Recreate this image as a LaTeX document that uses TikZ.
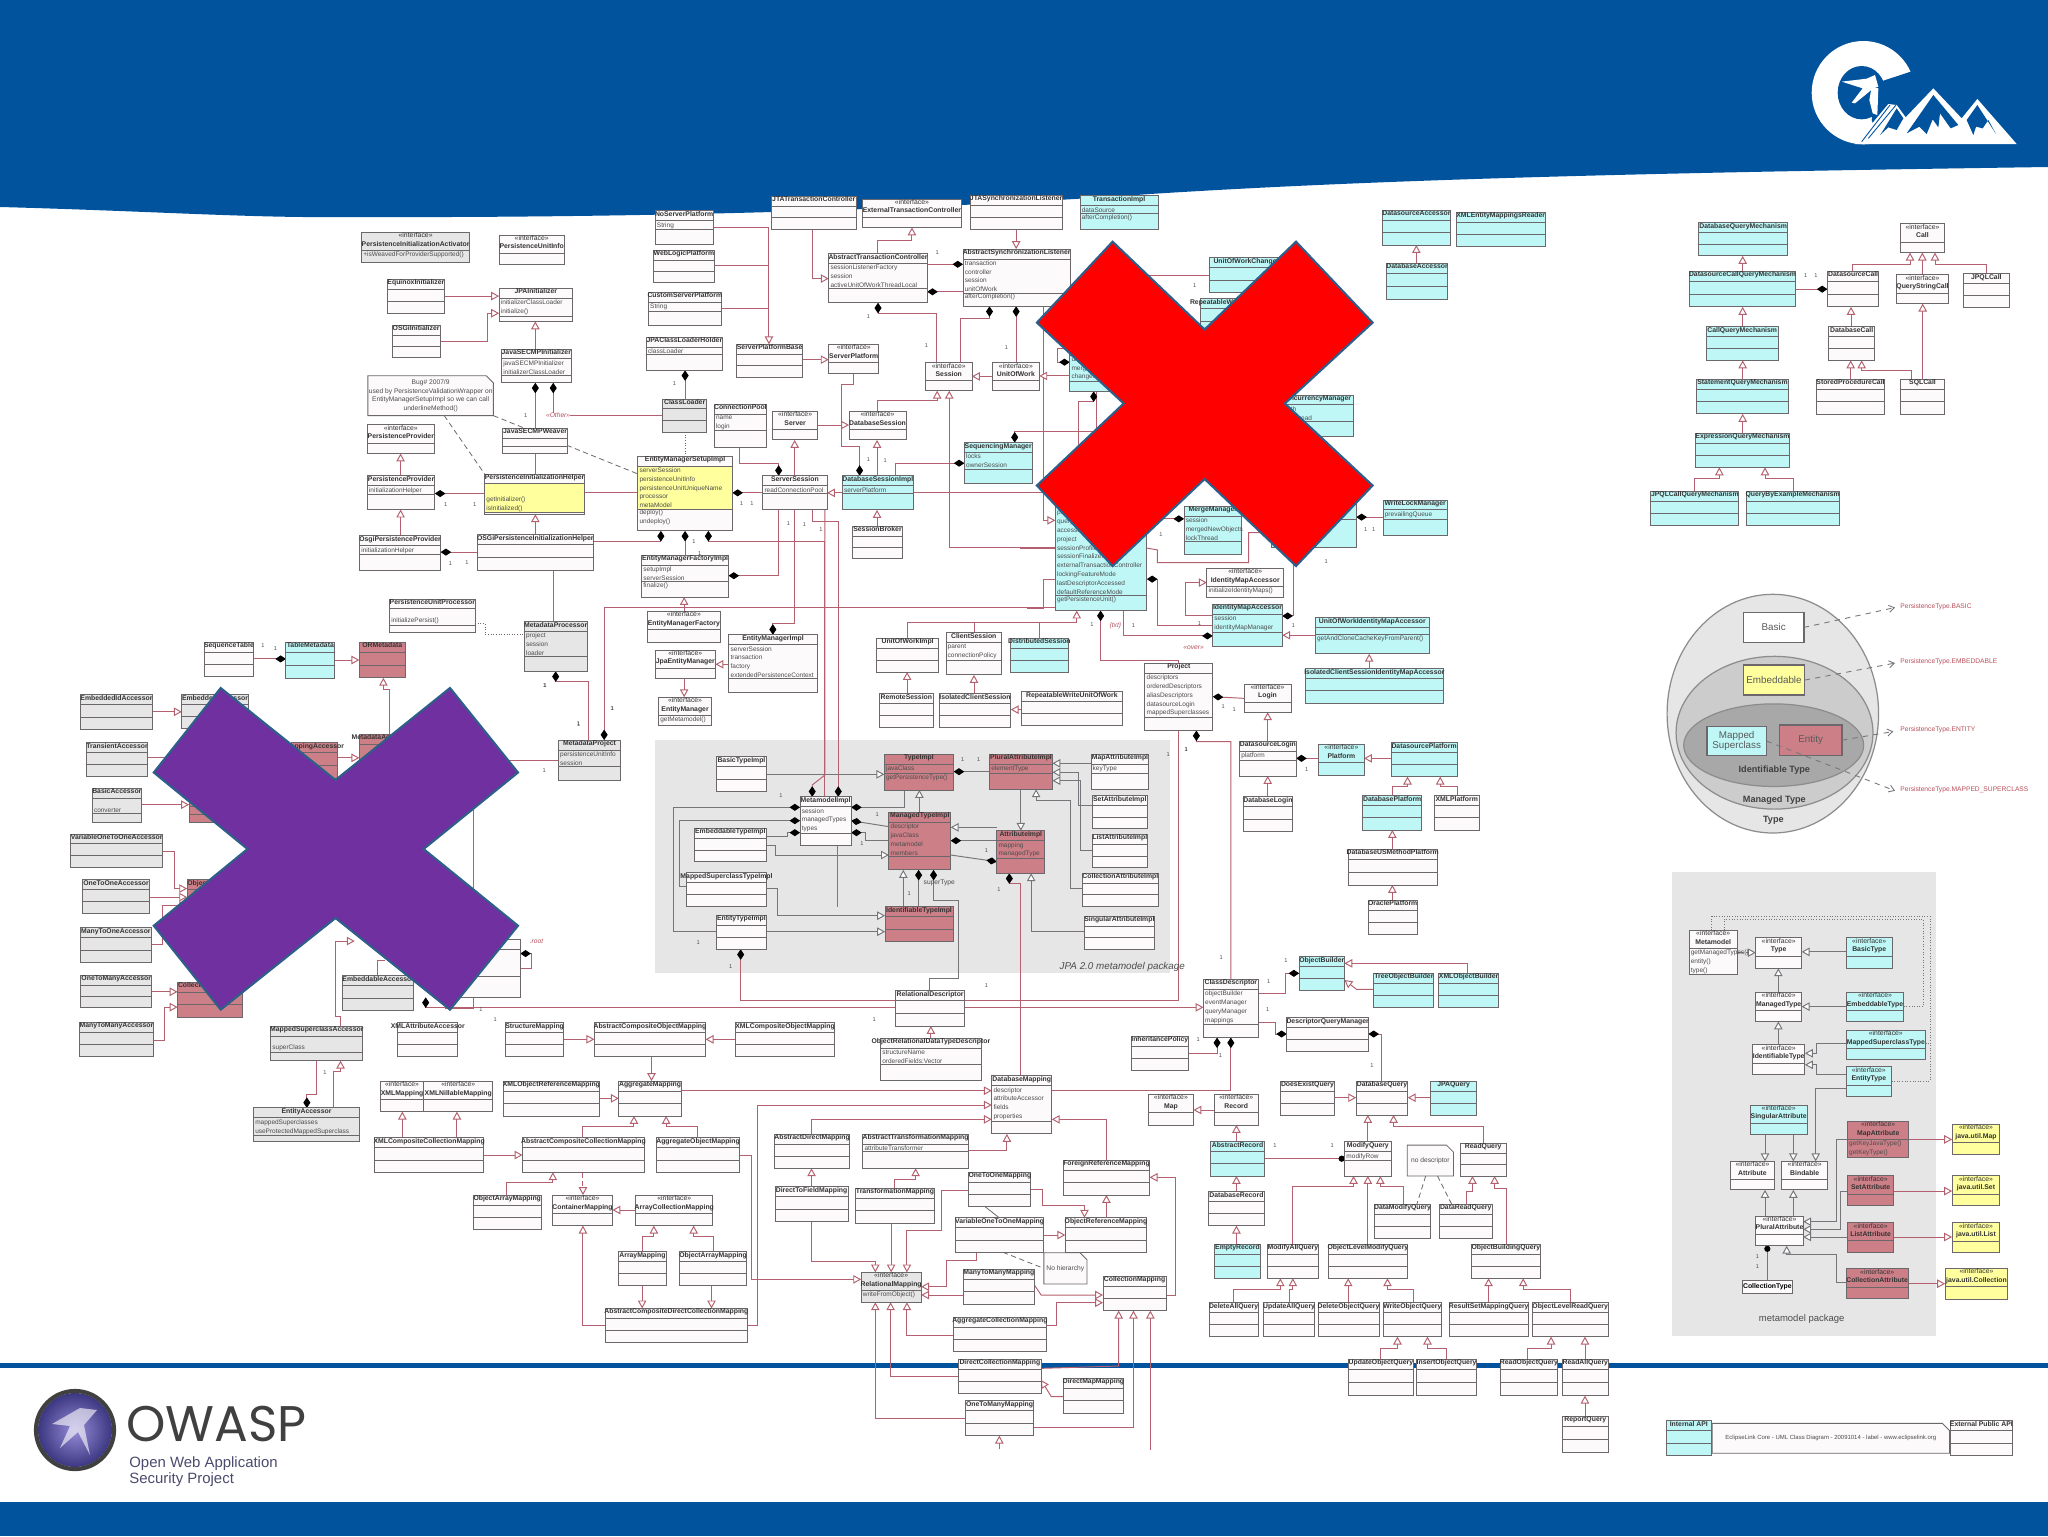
\documentclass[tikz,border=0pt]{standalone}
\usepackage{fontspec}
\setmainfont{Liberation Sans}
\newfontfamily\owf{Poppins}
\usetikzlibrary{arrows.meta,shapes.geometric,calc}
\definecolor{banner}{HTML}{00539C}
\definecolor{lc}{HTML}{B5606E}
\definecolor{lgc}{HTML}{77757A}
\definecolor{bx}{HTML}{6B676A}
\definecolor{cyb}{HTML}{BFF7F7}
\definecolor{pkb}{HTML}{CC7F87}
\definecolor{ylb}{HTML}{FFFF9E}
\definecolor{grb}{HTML}{E6E6E6}
\definecolor{whb}{HTML}{FCFAFA}
\definecolor{lbl}{HTML}{B8505C}
\definecolor{elm}{HTML}{CCCCCC}
\definecolor{eli}{HTML}{A8A8A8}
\definecolor{xpur}{HTML}{7030A0}
\definecolor{xedge}{HTML}{2E5F8A}
\definecolor{orbi}{HTML}{968CD7}
\definecolor{orbo}{HTML}{3C3782}
\definecolor{owsc}{HTML}{4B4B6E}
\pgfdeclarelayer{bg}\pgfdeclarelayer{wires}\pgfdeclarelayer{top}
\pgfsetlayers{bg,wires,main,top}
\def\afc{none}
\tikzset{
 reg/.code n args={4}{\gdef\rsx{#3}\gdef\rsy{#4}\tikzset{shift={(#1,#2)},xscale=1/#3,yscale=1/#4}},
 ub/.style={draw=bx,line width=.5pt,inner sep=0pt,outer sep=0pt,rectangle},
 wb/.style={fill=whb}, cb/.style={fill=cyb}, pb/.style={fill=pkb}, yb/.style={fill=ylb}, gb/.style={fill=grb},
 ttl/.style={font=\bfseries\fontsize{3.9}{5}\selectfont,inner sep=.3pt,outer sep=0pt,align=center,text=black!80},
 itl/.style={font=\fontsize{3.9}{4.8}\selectfont,inner sep=.3pt,outer sep=0pt,align=center,text=black!80},
 att/.style={font=\fontsize{3.7}{5}\selectfont,inner sep=.7pt,outer sep=0pt,align=left,text=black!70},
 csep/.style={draw=bx,line width=.4pt},
 wl/.style={draw=lc,line width=.55pt},
 lg/.style={draw=lgc,color=lgc},
 plainl/.style={wl},
 gen/.style={wl,-{Triangle[fill=white,length=4.5pt,width=4.8pt]}},
 comp/.style={wl,-{Diamond[fill=black,length=6pt,width=4pt,color=black]}},
 circ/.style={wl,-{Circle[fill=black,length=3.5pt,color=black]}},
 depl/.style={draw=bx,line width=.45pt,densely dashed},
 dotl/.style={draw=bx,line width=.5pt,densely dotted},
 dasharr/.style={draw=lgc,line width=.5pt,dashed,-{Straight Barb[length=3pt,width=4pt]}},
 slab/.style={font=\itshape\fontsize{3.8}{5}\selectfont,text=lbl,inner sep=0pt},
 xshape/.style={draw=xedge,line width=1.2pt},
 ptl/.style={font=\fontsize{3.8}{5}\selectfont,text=lbl,inner sep=0pt,anchor=west},
 mul/.style={font=\fontsize{3.2}{4}\selectfont,text=black!70,inner sep=0pt},
}
\newcommand{\ucls}[9][wb]{%
 \pgfmathsetmacro\bw{abs((#5)-(#3))/\rsx*0.5669}%
 \pgfmathsetmacro\bh{abs((#6)-(#4))/\rsy*0.5669}%
 \node[ub,#1,minimum width=\bw pt,minimum height=\bh pt] (#2) at ({((#3)+(#5))/2},{((#4)+(#6))/2}) {};%
 \node[ttl,anchor=north] (#2-t) at (#2.north) {#7};%
 \draw[csep] ([yshift={-5.6pt*\rsy}]#2.north west) -- ([yshift={-5.6pt*\rsy}]#2.north east);%
 \if\relax\detokenize{#8}\relax
   \pgfmathsetmacro\ym{-(5.6+\bh)/2*\rsy}%
   \draw[csep] ([yshift=\ym pt]#2.north west) -- ([yshift=\ym pt]#2.north east);%
 \else
   \node[att,fill=\afc,anchor=north west,text width=\bw pt-2pt] (#2-a) at ([yshift={-5.9pt*\rsy},xshift={.3pt*\rsx}]#2.north west) {#8};%
   \draw[csep] (#2-a.south -| #2.west) -- (#2-a.south -| #2.east);%
   \if\relax\detokenize{#9}\relax\else
     \node[att,anchor=north west,text width=\bw pt-2pt] (#2-o) at ([xshift={.3pt*\rsx}]#2-a.south -| #2.west) {#9};%
   \fi
 \fi
}
\newcommand{\uifc}[8][wb]{%
 \pgfmathsetmacro\bw{abs((#5)-(#3))/\rsx*0.5669}%
 \pgfmathsetmacro\bh{abs((#6)-(#4))/\rsy*0.5669}%
 \node[ub,#1,minimum width=\bw pt,minimum height=\bh pt] (#2) at ({((#3)+(#5))/2},{((#4)+(#6))/2}) {};%
 \node[itl,anchor=north] (#2-t) at (#2.north) {«interface»\\\textbf{#7}};%
 \draw[csep] ([yshift={-10.4pt*\rsy}]#2.north west) -- ([yshift={-10.4pt*\rsy}]#2.north east);%
 \if\relax\detokenize{#8}\relax\else
   \node[att,anchor=north west,text width=\bw pt-2pt] (#2-a) at ([yshift={-10.6pt*\rsy},xshift={.3pt*\rsx}]#2.north west) {#8};%
 \fi
}
\newcommand{\unote}[7][3.8]{%
 \pgfmathsetmacro\bw{abs((#5)-(#3))/\rsx*0.5669}%
 \pgfmathsetmacro\bh{abs((#6)-(#4))/\rsy*0.5669}%
 \node[inner sep=0pt,outer sep=0pt,minimum width=\bw pt,minimum height=\bh pt,align=center,font=\fontsize{#1}{5}\selectfont,text=black!70] (#2) at ({((#3)+(#5))/2},{((#4)+(#6))/2}) {#7};%
 \begin{pgfonlayer}{wires}
 \draw[ub,fill=whb] (#2.north west) -- ([xshift={-4pt*\rsx}]#2.north east) -- ([yshift={-4pt*\rsy}]#2.north east) -- (#2.south east) -- (#2.south west) -- cycle;%
 \end{pgfonlayer}
}
\newcommand{\uell}[6]{%
 \pgfmathsetmacro\bw{abs((#4)-(#2))/\rsx*0.5669}%
 \pgfmathsetmacro\bh{abs((#5)-(#3))/\rsy*0.5669}%
 \node[ellipse,draw=black!45,line width=.7pt,fill=#6,inner sep=0pt,outer sep=0pt,minimum width=\bw pt,minimum height=\bh pt] (#1) at ({((#2)+(#4))/2},{((#3)+(#5))/2}) {};%
}
\begin{document}
\begin{tikzpicture}[x=0.02cm,y=-0.02cm]
\useasboundingbox (0,0) rectangle (2048,1536);
\begin{pgfonlayer}{bg}
 \fill[white] (0,0) rectangle (2048,1536);
 \fill[banner] (0,0) -- (0,207) .. controls (150,211) and (250,218) .. (340,217) .. controls (600,218) and (900,212) .. (1150,194) .. controls (1400,178) and (1700,172) .. (2048,167) -- (2048,0) -- cycle;
 \fill[banner] (0,1363) rectangle (2048,1367.5);
 \fill[banner] (0,1502) rectangle (2048,1536);
 \fill[grb] (655,740) rectangle (1170,973);
 \fill[grb] (1672,872) rectangle (1936,1336);
\end{pgfonlayer}

%%% ---------------- NODES ---------------
\begin{scope}[reg={340}{190}{2.063}{2.8}]
\uifc[gb]{pact}{44}{118}{268}{202}{PersistenceInitializationActivator}{+isWeavedForProviderSupported()}
\uifc{pui}{328}{126}{463}{208}{PersistenceUnitInfo}{}
\ucls{equinox}{98}{250}{215}{345}{EquinoxInitializer}{}{}
\ucls{osgi}{107}{378}{207}{470}{OSGiInitializer}{}{}
\ucls{jpainit}{328}{275}{480}{368}{JPAInitializer}{initializerClassLoader\\initialize()}{}
\ucls{javase}{333}{445}{477}{540}{JavaSECMPInitializer}{javaSECMPInitializer\\initializerClassLoader}{}
\ucls{jweaver}{335}{668}{470}{738}{JavaSECMPWeaver}{}{}
\unote{bugnote}{57}{520}{317}{632}{Bug\# 2007/9\\used by PersistenceValidationWrapper on\\EntityManagerSetupImpl so we can call\\underlineMethod()}
\uifc{iprov}{56}{657}{195}{738}{PersistenceProvider}{}
\ucls{prov}{56}{800}{196}{895}{PersistenceProvider}{initializationHelper}{}
\def\afc{ylb}
\ucls{pih}{298}{795}{505}{908}{PersistenceInitializationHelper}{\phantom{x}\\[2pt]getInitializer()\\isInitialized()}{}
\ucls{ems}{614}{745}{810}{955}{EntityManagerSetupImpl}{serverSession\\persistenceUnitInfo\\persistenceUnitUniqueName\\processor\\metaModel}{deploy()\\undeploy()}
\def\afc{none}
\ucls{oprov}{40}{968}{208}{1065}{OsgiPersistenceProvider}{initializationHelper}{}
\ucls{opih}{283}{965}{523}{1065}{OSGiPersistenceInitializationHelper}{}{}
\ucls{pup}{102}{1145}{279}{1240}{PersistenceUnitProcessor}{\phantom{x}\\initializePersist()}{}
\ucls[gb]{mdproc}{380}{1208}{510}{1348}{MetadataProcessor}{project\\session\\loader}{}
\ucls{nosp}{650}{58}{770}{153}{NoServerPlatform}{String}{}
\ucls{wls}{646}{168}{773}{258}{WebLogicPlatform}{}{}
\ucls{custsp}{636}{286}{787}{380}{CustomServerPlatform}{String}{}
\ucls{jclh}{632}{412}{789}{505}{JPAClassLoaderHolder}{classLoader}{}
\ucls{sbase}{818}{432}{955}{525}{ServerPlatformBase}{}{}
\uifc{isp}{1008}{432}{1112}{515}{ServerPlatform}{}
\ucls[gb]{cloader}{665}{585}{757}{678}{ClassLoader}{}{}
\ucls{cpool}{772}{600}{880}{720}{ConnectionPool}{name\\login}{}
\uifc{iserver}{893}{620}{985}{700}{Server}{}
\uifc{idbs}{1050}{620}{1168}{700}{DatabaseSession}{}
\ucls{jtac}{890}{17}{1065}{110}{JTATransactionController}{}{}
\uifc{extc}{1078}{25}{1282}{105}{ExternalTransactionController}{}
\ucls{jtas}{1300}{15}{1490}{110}{JTASynchronizationListener}{}{}
\ucls{atc}{1008}{178}{1212}{316}{AbstractTransactionController}{sessionListenerFactory\\session\\activeUnitOfWorkThreadLocal}{}
\ucls{asyn}{1285}{165}{1507}{326}{AbstractSynchronizationListener}{transaction\\controller\\session\\unitOfWork}{afterCompletion()}
\uifc{isess}{1208}{483}{1304}{562}{Session}{}
\uifc{iuow}{1346}{483}{1443}{560}{UnitOfWork}{}
\ucls[cb]{seq}{1288}{707}{1428}{822}{SequencingManager}{locks\\ownerSession}{}
\ucls{ss}{872}{800}{1005}{895}{ServerSession}{readConnectionPool}{}
\ucls[cb]{dbs}{1036}{800}{1183}{896}{DatabaseSessionImpl}{serverPlatform}{}
\ucls{emf}{622}{1022}{802}{1140}{EntityManagerFactoryImpl}{setupImpl\\serverSession}{finalize()}
\uifc{iemf}{634}{1180}{785}{1268}{EntityManagerFactory}{}
\uifc{jem}{650}{1288}{775}{1368}{JpaEntityManager}{}
\uifc{iem}{657}{1420}{767}{1500}{EntityManager}{getMetamodel()}
\ucls{emi}{802}{1245}{985}{1408}{EntityManagerImpl}{serverSession\\transaction\\factory\\extendedPersistenceContext}{}
\ucls{broker}{1058}{942}{1160}{1033}{SessionBroker}{}{}
\ucls{uowi}{1107}{1255}{1235}{1350}{UnitOfWorkImpl}{}{}
\ucls{client}{1250}{1240}{1365}{1358}{ClientSession}{parent\\connectionPolicy}{}
\ucls[cb]{dist}{1383}{1255}{1503}{1350}{DistributedSession}{}{}
\ucls{remote}{1113}{1410}{1224}{1505}{RemoteSession}{}{}
\ucls{isol}{1236}{1410}{1384}{1505}{IsolatedClientSession}{}{}
\ucls{rwuow}{1405}{1405}{1615}{1500}{RepeatableWriteUnitOfWork}{}{}
\node[mul] (m1) at (218,880) {1};
\node[mul] (m2) at (278,880) {1};
\node[mul] (m3) at (828,878) {1};
\node[mul] (m4) at (850,878) {1};
\node[mul] (m5) at (383,632) {1};
\node[mul] (m6) at (690,542) {1};
\node[mul] (m7) at (1090,755) {1};
\node[mul] (m8) at (1125,757) {1};
\node[mul] (m9) at (1090,355) {1};
\node[mul] (m10) at (1210,435) {1};
\node[mul] (m11) at (1375,440) {1};
\node[mul] (m12) at (1232,175) {1};
\node[mul] (m13) at (925,935) {1};
\node[mul] (m14) at (958,938) {1};
\node[mul] (m15) at (992,952) {1};
\node[mul] (m16) at (228,1047) {1};
\node[mul] (m17) at (262,1044) {1};
\node[mul] (m18) at (562,1452) {1};
\node[mul] (m19) at (492,1495) {1};
\node[mul] (m20) at (422,1388) {1};
\node[mul] (m21) at (730,985) {1};
\node[mul] (m22) at (742,1018) {1};
\end{scope}

\begin{scope}[reg={1030}{190}{2.904}{2.904}]
\ucls[cb]{tsett}{145}{17}{372}{115}{TransactionImpl}{dataSource}{afterCompletion()}
\ucls[cb]{dsa}{1022}{60}{1222}{160}{DatasourceAccessor}{}{}
\ucls[cb]{xmlr}{1237}{65}{1497}{165}{XMLEntityMappingsReader}{}{}
\ucls[cb]{dba}{1035}{213}{1213}{318}{DatabaseAccessor}{}{}
\ucls[cb]{uowcs}{520}{197}{760}{298}{UnitOfWorkChangeSet}{}{}
\ucls[cb]{rep}{495}{315}{700}{420}{RepeatableWriteUnitOfWork}{}{}
\ucls[cb]{uowc}{115}{450}{300}{585}{UnitOfWorkImpl}{unitOfWorkImpl\\mergeManager\\changeSet}{}
\ucls[cb]{clm}{720}{595}{940}{715}{ConcurrencyManager}{depth\\lockThread}{}
\ucls[cb]{abs}{73}{870}{340}{1222}{AbstractSession}{identityMapAccessor\\platform\\queryBuilder\\accessor\\project\\sessionProfiler\\sessionFinalizer\\externalTransactionController\\lockingFeatureMode\\lastDescriptorAccessed\\defaultReferenceMode}{getPersistenceUnit()}
\ucls[cb]{merge}{447}{918}{615}{1060}{MergeManager}{session\\mergedNewObjects\\lockThread}{}
\ucls[cb]{wlm}{1025}{900}{1212}{1002}{WriteLockManager}{prevailingQueue}{}
\ucls[cb]{commit}{700}{880}{948}{1038}{CommitManager}{session\\commitOrder}{}
\uifc{iidm}{513}{1098}{737}{1182}{IdentityMapAccessor}{initializeIdentityMaps()}
\ucls[cb]{idm}{530}{1203}{733}{1325}{IdentityMapAccessor}{session\\identityMapManager}{}
\ucls[cb]{uowid}{828}{1242}{1160}{1347}{UnitOfWorkIdentityMapAccessor}{\phantom{x}}{getAndCloneCacheKeyFromParent()}
\ucls[cb]{isoid}{800}{1390}{1200}{1490}{IsolatedClientSessionIdentityMapAccessor}{}{}
\node[mul] (n1) at (478,278) {1};
\node[mul] (n2) at (380,1002) {1};
\node[mul] (n3) at (975,985) {1};
\node[mul] (n4) at (998,985) {1};
\node[mul] (n5) at (860,1078) {1};
\node[mul] (n6) at (300,1265) {1};
\node[mul] (n7) at (180,1262) {1};
\node[mul] (n8) at (492,1258) {1};
\node[mul] (n9) at (765,1265) {1};
\end{scope}

\begin{scope}[reg={1100}{640}{2.904}{3}]
\ucls{proj}{130}{70}{328}{272}{Project}{descriptors\\orderedDescriptors\\aliasDescriptors\\datasourceLogin\\mappedSuperclasses}{}
\uifc{login}{418}{132}{555}{217}{Login}{}
\ucls{dlog}{405}{303}{570}{408}{DatasourceLogin}{platform}{}
\ucls{dblog}{415}{470}{560}{575}{DatabaseLogin}{}{}
\uifc[cb]{plat}{635}{312}{767}{405}{Platform}{}
\ucls[cb]{dspl}{845}{308}{1037}{410}{DatasourcePlatform}{}{}
\ucls[cb]{dbp}{762}{467}{935}{570}{DatabasePlatform}{}{}
\ucls{xmlp}{970}{467}{1102}{570}{XMLPlatform}{}{}
\ucls{dblsm}{720}{628}{980}{735}{DatabaseUSMethodPlatform}{}{}
\ucls{orap}{778}{780}{922}{883}{OraclePlatform}{}{}
\ucls{cd}{300}{1018}{460}{1193}{ClassDescriptor}{objectBuilder\\eventManager\\queryManager\\mappings}{}
\ucls[cb]{ob}{578}{950}{710}{1050}{ObjectBuilder}{}{}
\ucls[cb]{tob}{795}{1000}{970}{1103}{TreeObjectBuilder}{}{}
\ucls[cb]{xob}{983}{1000}{1158}{1103}{XMLObjectBuilder}{}{}
\ucls{dqm}{542}{1133}{780}{1233}{DescriptorQueryManager}{}{}
\node[mul] (o1) at (358,200) {1};
\node[mul] (o2) at (390,208) {1};
\node[mul] (o3) at (600,390) {1};
\node[mul] (o4) at (250,328) {1};
\node[mul] (o5) at (198,345) {1};
\node[mul] (o6) at (352,952) {1};
\node[mul] (o7) at (540,962) {1};
\node[mul] (o8) at (490,1024) {1};
\node[mul] (o9) at (487,1108) {1};
\node[mul] (o10) at (285,1200) {1};
\node[mul] (o11) at (350,1246) {1};
\node[mul] (o12) at (790,1277) {1};
\end{scope}

\begin{scope}[reg={640}{720}{2.613}{3}]
\ucls{basici}{200}{110}{330}{215}{BasicTypeImpl}{}{}
\ucls[pb]{typei}{638}{103}{820}{210}{TypeImpl}{javaClass}{getPersistenceType()}
\ucls[pb]{plui}{913}{103}{1078}{208}{PluralAttributeImpl}{elementType}{}
\ucls{mapi}{1178}{103}{1330}{208}{MapAttributeImpl}{keyType}{}
\ucls{seti}{1182}{227}{1325}{325}{SetAttributeImpl}{}{}
\ucls{listi}{1182}{343}{1325}{443}{ListAttributeImpl}{}{}
\ucls{coli}{1155}{460}{1355}{558}{CollectionAttributeImpl}{}{}
\ucls{singi}{1160}{588}{1345}{688}{SingularAttributeImpl}{}{}
\ucls{metai}{418}{230}{552}{378}{MetamodelImpl}{session\\managedTypes\\types}{}
\ucls{embi}{142}{325}{330}{425}{EmbeddableTypeImpl}{}{}
\ucls[pb]{mti}{650}{277}{812}{450}{ManagedTypeImpl}{descriptor\\javaClass\\metamodel\\members}{}
\ucls[pb]{attri}{932}{332}{1058}{460}{AttributeImpl}{mapping\\managedType}{}
\ucls{msi}{122}{458}{330}{558}{MappedSuperclassTypeImpl}{}{}
\ucls[pb]{idi}{640}{560}{818}{665}{IdentifiableTypeImpl}{}{}
\ucls{enti}{200}{585}{330}{688}{EntityTypeImpl}{}{}
\ucls{reld}{668}{812}{848}{918}{RelationalDescriptor}{}{}
\ucls{ordt}{628}{955}{892}{1082}{ObjectRelationalDataTypeDescriptor}{structureName\\orderedFields:Vector}{}
\ucls{acm}{-120}{908}{172}{1010}{AbstractCompositeObjectMapping}{}{}
\ucls{xcom}{250}{908}{508}{1010}{XMLCompositeObjectMapping}{}{}
\ucls{inh}{1283}{948}{1433}{1052}{InheritancePolicy}{}{}
\node[font=\itshape\fontsize{5.6}{6}\selectfont,text=black!70,inner sep=0pt] (jpal) at (1260,740) {JPA 2.0 metamodel package};
\node[slab,text=black!70,font=\fontsize{3.8}{5}\selectfont] (sut) at (782,490) {superType};
\node[mul] (p1) at (843,118) {1};
\node[mul] (p2) at (885,118) {1};
\node[mul] (p3) at (368,228) {1};
\node[mul] (p4) at (620,283) {1};
\node[mul] (p5) at (580,372) {1};
\node[mul] (p6) at (703,520) {1};
\node[mul] (p7) at (905,392) {1};
\node[mul] (p8) at (938,508) {1};
\node[mul] (p9) at (152,667) {1};
\node[mul] (p10) at (237,740) {1};
\node[mul] (p11) at (1427,88) {1};
\node[mul] (p12) at (905,797) {1};
\node[mul] (p13) at (612,898) {1};
\end{scope}

\begin{scope}[reg={60}{600}{2.613}{2.8}]
\ucls{seqt}{378}{118}{505}{213}{SequenceTable}{}{}
\ucls[cb]{tmeta}{590}{118}{718}{220}{TableMetadata}{}{}
\ucls[pb]{orm}{782}{118}{902}{218}{ORMetadata}{}{}
\ucls[gb]{embid}{52}{265}{243}{362}{EmbeddedIdAccessor}{}{}
\ucls[gb]{embac}{318}{265}{492}{360}{EmbeddedAccessor}{}{}
\ucls[gb]{trans}{68}{400}{230}{495}{TransientAccessor}{}{}
\ucls[pb]{mapac}{605}{400}{725}{500}{MappingAccessor}{}{}
\ucls[pb]{metac}{782}{375}{900}{500}{MetadataAccessor}{}{}
\ucls[gb]{basac}{84}{527}{213}{622}{BasicAccessor}{\phantom{x}\\converter}{}
\ucls[pb]{dirac}{337}{550}{480}{622}{DirectAccessor}{}{}
\ucls[gb]{varac}{28}{655}{268}{750}{VariableOneToOneAccessor}{}{}
\ucls[gb]{ooac}{58}{783}{235}{877}{OneToOneAccessor}{}{}
\ucls[gb]{moac}{54}{918}{238}{1015}{ManyToOneAccessor}{}{}
\ucls[gb]{omac}{54}{1050}{240}{1142}{OneToManyAccessor}{}{}
\ucls[gb]{mmac}{50}{1183}{245}{1278}{ManyToManyAccessor}{}{}
\ucls[pb]{objac}{332}{783}{470}{877}{ObjectAccessor}{}{}
\ucls[pb]{colac}{307}{1070}{477}{1168}{CollectionAccessor}{}{}
\ucls[gb]{embble}{738}{1052}{925}{1150}{EmbeddableAccessor}{}{}
\ucls{clsac}{1000}{950}{1203}{1113}{ClassAccessor}{descriptor\\project\\mappings}{}
\ucls[gb]{msac}{550}{1193}{792}{1290}{MappedSuperclassAccessor}{\phantom{x}\\superClass}{}
\ucls[gb]{entac}{505}{1422}{783}{1515}{EntityAccessor}{mappedSuperclasses\\useProtectedMappedSuperclass}{}
\ucls{xatt}{882}{1183}{1040}{1278}{XMLAttributeAccessor}{}{}
\ucls{strm}{1163}{1183}{1317}{1278}{StructureMapping}{}{}
\ucls[gb]{mdp}{1302}{392}{1465}{505}{MetadataProject}{persistenceUnitInfo\\session}{}
\node[mul] (q1) at (530,128) {1};
\node[mul] (q2) at (563,136) {1};
\node[mul] (q3) at (1268,240) {1};
\node[mul] (q4) at (1443,305) {1};
\node[mul] (q5) at (1355,348) {1};
\node[mul] (q6) at (1265,478) {1};
\node[mul] (q7) at (1100,1148) {1};
\node[mul] (q8) at (1137,1175) {1};
\node[mul] (q9) at (692,1322) {1};
\end{scope}

\begin{scope}[reg={360}{1060}{1.96}{3}]
\uifc{xmlm}{40}{63}{125}{155}{XMLMapping}{}
\uifc{xmln}{125}{63}{260}{155}{XMLNillableMapping}{}
\ucls{xmlo}{280}{63}{470}{168}{XMLObjectReferenceMapping}{}{}
\ucls{agg}{507}{63}{630}{168}{AggregateMapping}{}{}
\ucls{dbm}{1238}{47}{1356}{222}{DatabaseMapping}{descriptor\\attributeAccessor\\fields\\properties}{}
\ucls{xmlc}{28}{233}{243}{337}{XMLCompositeCollectionMapping}{}{}
\ucls{acc}{318}{233}{558}{337}{AbstractCompositeCollectionMapping}{}{}
\ucls{aggo}{580}{233}{745}{337}{AggregateObjectMapping}{}{}
\ucls{adm}{812}{222}{960}{325}{AbstractDirectMapping}{}{}
\ucls{atm}{985}{222}{1193}{325}{AbstractTransformationMapping}{attributeTransformer}{}
\ucls{frm}{1378}{300}{1548}{405}{ForeignReferenceMapping}{}{}
\ucls{oom}{1193}{337}{1315}{440}{OneToOneMapping}{}{}
\ucls{oam}{222}{405}{355}{507}{ObjectArrayMapping}{}{}
\uifc{contm}{377}{405}{495}{497}{ContainerMapping}{}
\uifc{acolm}{540}{405}{692}{497}{ArrayCollectionMapping}{}
\ucls{dtf}{813}{380}{957}{485}{DirectToFieldMapping}{}{}
\ucls{trm}{970}{385}{1127}{490}{TransformationMapping}{}{}
\ucls{vom}{1167}{473}{1340}{577}{VariableOneToOneMapping}{}{}
\ucls{orm2}{1382}{473}{1542}{577}{ObjectReferenceMapping}{}{}
\unote{hnote}{1340}{578}{1425}{672}{No hierarchy}
\ucls{arrm}{507}{575}{600}{677}{ArrayMapping}{}{}
\ucls{oarr}{626}{575}{758}{677}{ObjectArrayMapping}{}{}
\ucls{acd}{480}{745}{760}{848}{AbstractCompositeDirectCollectionMapping}{}{}
\uifc[gb]{relm}{982}{637}{1100}{727}{RelationalMapping}{writeFromObject()}
\ucls{mmm}{1182}{628}{1322}{733}{ManyToManyMapping}{}{}
\ucls{colm}{1456}{648}{1580}{752}{CollectionMapping}{}{}
\ucls{aggc}{1162}{772}{1346}{875}{AggregateCollectionMapping}{}{}
\ucls{dcm}{1173}{898}{1335}{1000}{DirectCollectionMapping}{}{}
\ucls{dmm}{1378}{955}{1497}{1060}{DirectMapMapping}{}{}
\ucls{omm}{1187}{1022}{1320}{1127}{OneToManyMapping}{}{}
\end{scope}

\begin{scope}[reg={1100}{1060}{2.8}{3}]
\uifc{imap}{135}{103}{262}{195}{Map}{}
\uifc{irec}{320}{103}{443}{195}{Record}{}
\ucls[cb]{arec}{310}{245}{460}{348}{AbstractRecord}{}{}
\ucls{drec}{304}{395}{460}{497}{DatabaseRecord}{}{}
\ucls[cb]{erec}{320}{552}{450}{655}{EmptyRecord}{}{}
\ucls{deq}{505}{63}{657}{165}{DoesExistQuery}{}{}
\ucls{dbq}{717}{63}{862}{165}{DatabaseQuery}{}{}
\ucls[cb]{jpaq}{925}{63}{1055}{165}{JPAQuery}{}{}
\ucls{modq}{685}{245}{815}{348}{ModifyQuery}{modifyRow}{}
\ucls{rdq}{1008}{250}{1138}{348}{ReadQuery}{}{}
\unote{dnote}{860}{255}{990}{348}{no descriptor}
\ucls{dmq}{768}{433}{926}{535}{DataModifyQuery}{}{}
\ucls{drq}{950}{433}{1098}{535}{DataReadQuery}{}{}
\ucls{maq}{468}{552}{612}{655}{ModifyAllQuery}{}{}
\ucls{olm}{638}{552}{862}{655}{ObjectLevelModifyQuery}{}{}
\ucls{obq}{1040}{552}{1233}{655}{ObjectBuildingQuery}{}{}
\ucls{daq}{305}{728}{443}{830}{DeleteAllQuery}{}{}
\ucls{uaq}{457}{728}{602}{830}{UpdateAllQuery}{}{}
\ucls{doq}{610}{728}{782}{830}{DeleteObjectQuery}{}{}
\ucls{woq}{792}{728}{957}{830}{WriteObjectQuery}{}{}
\ucls{rsq}{977}{728}{1200}{830}{ResultSetMappingQuery}{}{}
\ucls{olr}{1210}{728}{1423}{830}{ObjectLevelReadQuery}{}{}
\ucls{uoq}{695}{898}{878}{1007}{UpdateObjectQuery}{}{}
\ucls{ioq}{886}{898}{1055}{1007}{InsertObjectQuery}{}{}
\ucls{roq}{1120}{898}{1282}{1007}{ReadObjectQuery}{}{}
\ucls{raq}{1295}{898}{1423}{1007}{ReadAllQuery}{}{}
\ucls{rpq}{1295}{1068}{1423}{1177}{ReportQuery}{}{}
\node[mul] (r1) at (490,258) {1};
\node[mul] (r2) at (650,258) {1};
\end{scope}

\begin{scope}[reg={1640}{200}{3}{2.412}]
\ucls[cb]{dqm2}{176}{55}{443}{135}{DatabaseQueryMechanism}{}{}
\ucls[cb]{dcqm}{148}{172}{467}{258}{DatasourceCallQueryMechanism}{}{}
\ucls[cb]{cqm}{198}{305}{415}{387}{CallQueryMechanism}{}{}
\ucls[cb]{sqm}{170}{432}{445}{516}{StatementQueryMechanism}{}{}
\ucls[cb]{eqm}{165}{562}{450}{645}{ExpressionQueryMechanism}{}{}
\ucls[cb]{jcqm}{32}{702}{297}{785}{JPQLCallQueryMechanism}{}{}
\ucls[cb]{qbe}{318}{702}{598}{785}{QueryByExampleMechanism}{}{}
\uifc{icall}{780}{57}{915}{127}{Call}{}
\ucls{dcall}{562}{172}{717}{258}{DatasourceCall}{}{}
\uifc{qsc}{770}{180}{925}{250}{QueryStringCall}{}
\ucls{jcall}{970}{178}{1108}{260}{JPQLCall}{}{}
\ucls{dbcall}{565}{305}{705}{387}{DatabaseCall}{}{}
\ucls{spc}{528}{432}{735}{518}{StoredProcedureCall}{}{}
\ucls{sqlc}{780}{432}{915}{518}{SQLCall}{}{}
\node[mul] (s1) at (497,183) {1};
\node[mul] (s2) at (528,183) {1};
% Euler diagram
\uell{etype}{80}{950}{717}{1528}{grb}
\uell{emt}{107}{1100}{700}{1470}{elm}
\uell{eit}{130}{1215}{672}{1415}{eli}
\tikzset{ebox/.style={draw=bx,line width=.9pt,inner sep=0pt,outer sep=0pt,font=\fontsize{5.6}{6.5}\selectfont,text=black!65,align=center}}
\node[ebox,fill=white,minimum width=34.3pt,minimum height=17.2pt] (ebasic) at (401,1031) {Basic};
\node[ebox,fill=ylb,minimum width=34.9pt,minimum height=17.2pt] (eemb) at (402,1158) {Embeddable};
\node[ebox,fill=cyb,minimum width=34pt,minimum height=16.5pt] (emap) at (290,1305) {Mapped\\[-1pt]Superclass};
\node[ebox,fill=pkb,minimum width=35.7pt,minimum height=17.2pt] (eent) at (512,1303) {Entity};
\tikzset{eltx/.style={font=\bfseries\fontsize{5.2}{6}\selectfont,text=black!75,inner sep=0pt}}
\node[eltx] (lit) at (403,1375) {Identifiable Type};
\node[eltx] (lmt) at (403,1447) {Managed Type};
\node[eltx] (ltp) at (400,1497) {Type};
\node[ptl] (pbasic) at (780,980) {PersistenceType.BASIC};
\node[ptl] (pemb) at (780,1113) {PersistenceType.EMBEDDABLE};
\node[ptl] (pent) at (780,1279) {PersistenceType.ENTITY};
\node[ptl] (pms) at (780,1423) {PersistenceType.MAPPED\_SUPERCLASS};
\end{scope}

\begin{scope}[reg={1650}{860}{3}{2.613}]
\uifc{mm}{117}{183}{262}{300}{Metamodel}{getManagedTypes()\\entity()\\type()}
\uifc{ty}{317}{203}{455}{283}{Type}{}
\uifc[cb]{bt}{588}{203}{727}{283}{BasicType}{}
\uifc{mt}{317}{345}{455}{422}{ManagedType}{}
\uifc[cb]{et}{588}{345}{762}{422}{EmbeddableType}{}
\uifc{it}{307}{483}{465}{560}{IdentifiableType}{}
\uifc[cb]{mst}{588}{445}{827}{520}{MappedSuperclassType}{}
\uifc[cb]{ent}{588}{540}{725}{618}{EntityType}{}
\uifc[cb]{sa}{300}{640}{472}{718}{SingularAttribute}{}
\uifc{att0}{240}{787}{375}{862}{Attribute}{}
\uifc{bnd}{395}{787}{533}{862}{Bindable}{}
\uifc{pa}{317}{930}{460}{1008}{PluralAttribute}{}
\node[ub,fill=whb,minimum width=28.3pt,minimum height=7.4pt,font=\bfseries\fontsize{3.9}{5}\selectfont] (ct) at (352,1115) {CollectionType};
\uifc[pb]{ma}{592}{682}{777}{778}{MapAttribute}{getKeyJavaType()\\getKeyType()}
\uifc[pb]{ssa}{592}{825}{732}{902}{SetAttribute}{}
\uifc[pb]{la}{592}{947}{732}{1026}{ListAttribute}{}
\uifc[pb]{ca}{588}{1068}{775}{1145}{CollectionAttribute}{}
\uifc[yb]{jmap}{906}{690}{1050}{770}{java.util.Map}{}
\uifc[yb]{jset}{906}{825}{1050}{902}{java.util.Set}{}
\uifc[yb]{jlist}{906}{948}{1050}{1026}{java.util.List}{}
\uifc[yb]{jcol}{885}{1067}{1074}{1147}{java.util.Collection}{}
\node[font=\fontsize{5.4}{6}\selectfont,text=black!70,inner sep=0pt] (mml) at (455,1200) {metamodel package};
\node[mul] (t1) at (322,1035) {1};
\node[mul] (t2) at (322,1062) {1};
\end{scope}

\begin{scope}[reg={1640}{1400}{3}{3}]
\ucls[cb]{iapi}{78}{62}{215}{167}{Internal API}{}{}
\ucls{xapi}{930}{62}{1118}{167}{External Public API}{}{}
\unote[3.4]{leg}{215}{70}{930}{160}{EclipseLink Core - UML Class Diagram - 20091014 - label - www.eclipselink.org}
\end{scope}

%%% ---------------- WIRES ----------------
\begin{pgfonlayer}{wires}
\begin{scope}[reg={340}{190}{2.063}{2.8}]
\draw[gen] (equinox.east |- 0,297) -- (jpainit.west |- 0,297);
\draw[gen] (osgi.east |- 0,424) -- (305,424) -- (305,345) -- (jpainit.west |- 0,345);
\draw[gen] (javase.north -| 403,0) -- (jpainit.south -| 403,0);
\draw[comp] (jweaver.north -| 403,0) -- (javase.south -| 403,0);
\draw[comp] (cloader.west |- 0,630) -- (440,630) -- (javase.south -| 440,0);
\node[slab,fill=white] (lother) at (450,631) {«Other»};
\draw[plainl] (jweaver.south -| 403,0) -- (pih.north -| 403,0);
\draw[depl] (bugnote.south -| 215,0) -- (pih.north west);
\draw[depl] (bugnote.south east) -- (ems.west |- 0,795);
\draw[comp] (pih.west |- 0,850) -- (prov.east |- 0,850);
\draw[plainl] (pih.east |- 0,848) -- (ems.west |- 0,848);
\draw[gen] (prov.north -| 125,0) -- (iprov.south -| 125,0);
\draw[gen] (oprov.north -| 125,0) -- (prov.south -| 125,0);
\draw[gen] (opih.north -| 403,0) -- (pih.south -| 403,0);
\draw[comp] (opih.west |- 0,1014) -- (oprov.east |- 0,1014);
\draw[comp] (ss.west |- 0,848) -- (ems.east |- 0,848);
\draw[gen] (dbs.west |- 0,848) -- (ss.east |- 0,848);
\draw[plainl] (dbs.east |- 0,848) -- (1470,848);
\draw[gen] (asyn.south -| 1452,0) -- (1452,925) -- (abs.west |- 0,925);
\draw[gen] (broker.north -| 1108,0) -- (dbs.south -| 1108,0);
\draw[gen] (ss.north -| 938,0) -- (iserver.south -| 938,0);
\draw[gen] (iserver.east |- 0,658) -- (idbs.west |- 0,658);
\draw[gen] (dbs.north -| 1108,0) -- (idbs.south -| 1108,0);
\draw[gen] (sbase.east |- 0,475) -- (isp.west |- 0,475);
\draw[gen] (nosp.east |- 0,105) -- (885,105) -- (sbase.north -| 885,0);
\draw[plainl] (wls.east |- 0,212) -- (885,212);
\draw[plainl] (custsp.east |- 0,333) -- (885,333);
\draw[comp] (isp.south -| 1060,0) -- (1060,545) -- (1035,545) -- (1035,718) -- (1072,718) -- (dbs.north -| 1072,0);
\draw[gen] (idbs.north -| 1108,0) -- (1108,590) -- (1232,590) -- (isess.south -| 1232,0);
\draw[gen] (abs.west |- 0,1000) -- (1257,1000) -- (isess.south -| 1257,0);
\draw[gen] (iuow.west |- 0,522) -- (isess.east |- 0,522);
\draw[comp] (dbs.north -| 1145,0) -- (1145,765) -- (seq.west |- 0,765);
\draw[comp] (uowc.south -| 1560,0) -- (1560,675) -- (1392,675) -- (seq.north -| 1392,0);
\draw[gen] (atc.north -| 1108,0) -- (1108,140) -- (1180,140) -- (extc.south -| 1180,0);
\draw[gen] (jtac.south -| 975,0) -- (975,248) -- (atc.west |- 0,248);
\draw[gen] (jtas.south -| 1395,0) -- (asyn.north -| 1395,0);
\draw[comp] (atc.east |- 0,208) -- (asyn.west |- 0,208);
\draw[comp] (asyn.west |- 0,285) -- (atc.east |- 0,285);
\draw[comp] (isess.north -| 1230,0) -- (1230,345) -- (1110,345) -- (atc.south -| 1110,0);
\draw[comp] (isess.north -| 1280,0) -- (1280,360) -- (1340,360) -- (asyn.south -| 1340,0);
\draw[comp] (iuow.north -| 1395,0) -- (asyn.south -| 1395,0);
\draw[comp] (cloader.north -| 712,0) -- (jclh.south -| 712,0);
\draw[dotl] (cloader.south -| 712,0) -- (ems.north -| 712,0);
\draw[comp] (cpool.south -| 825,0) -- (825,765) -- (905,765) -- (ss.north -| 905,0);
\draw[comp] (emf.north -| 712,0) -- (ems.south -| 712,0);
\draw[gen] (iemf.north -| 710,0) -- (emf.south -| 710,0);
\draw[comp] (ss.south -| 905,0) -- (905,1080) -- (emf.east |- 0,1080);
\draw[comp] (mdproc.north -| 440,0) -- (440,985) -- (662,985) -- (ems.south -| 662,0);
\draw[comp] (metai.north -| 1000,0) -- (1000,985) -- (760,985) -- (ems.south -| 760,0);
\draw[comp] (ss.south -| 975,0) -- (975,928) -- (1028,928) -- (metai.north -| 1028,0);
\draw[comp] (ss.south -| 938,0) -- (938,1215) -- (893,1215) -- (emi.north -| 893,0);
\draw[comp] (abs.west |- 0,1170) -- (545,1170) -- (mdp.north -| 545,0);
\draw[gen] (emi.west |- 0,1328) -- (jem.east |- 0,1328);
\draw[gen] (jem.south -| 710,0) -- (iem.north -| 710,0);
\draw[comp] (mdp.north -| 512,0) -- (512,1375) -- (445,1375) -- (mdproc.south -| 445,0);
\draw[dotl] (pup.east |- 0,1215) -- (300,1215) -- (300,1245) -- (mdproc.west |- 0,1245);
\draw[gen] (remote.north -| 1170,0) -- (uowi.south -| 1170,0);
\draw[gen] (isol.north -| 1308,0) -- (client.south -| 1308,0);
\draw[gen] (rwuow.west |- 0,1455) -- (isol.east |- 0,1455);
\draw[gen] (uowi.north -| 1170,0) -- (1170,1210) -- (1520,1210) -- (abs.south -| 1520,0);
\draw[plainl] (client.north -| 1308,0) -- (1308,1210);
\draw[plainl] (dist.north -| 1443,0) -- (1443,1210);
\end{scope}

\begin{scope}[reg={1030}{190}{2.904}{2.904}]
\draw[gen] (dba.north -| 1122,0) -- (dsa.south -| 1122,0);
\draw[comp] (abs.east |- 0,955) -- (merge.west |- 0,955);
\draw[comp] (wlm.west |- 0,950) -- (commit.east |- 0,950);
\draw[comp] (idm.west |- 0,1265) -- (370,1265) -- (370,1130) -- (abs.east |- 0,1130);
\draw[comp] (abs.south -| 272,0) -- (272,1295) -- (idm.west |- 0,1295);
\node[slab] (lo1) at (475,1328) {«over»};
\node[slab] (lo2) at (248,1265) {{\{txt\}}};
\draw[comp] (proj.north -| 430,0) -- (430,1365) -- (205,1365) -- (abs.south -| 205,0);
\draw[gen] (idm.west |- 0,1235) -- (452,1235) -- (452,1140) -- (iidm.west |- 0,1140);
\draw[comp] (commit.south -| 765,0) -- (765,1237) -- (idm.east |- 0,1237);
\draw[gen] (uowid.west |- 0,1293) -- (idm.east |- 0,1293);
\draw[gen] (isoid.north -| 985,0) -- (uowid.south -| 985,0);
\draw[plainl] (abs.east |- 0,1040) -- (370,1045) -- (370,1082) -- (635,1082) -- (635,995) -- (commit.west |- 0,995);
\draw[plainl] (uowcs.west |- 0,248) -- (340,248);
\draw[plainl] (abs.west |- 0,1130) -- (40,1130) -- (40,1215) -- (-10,1215);
\draw[comp] (uowc.west |- 0,460) -- (80,460) -- (80,500) -- (uowc.west |- 0,500);
\draw[comp] (abs.north -| 140,0) -- (140,615) -- (185,615) -- (uowc.south -| 185,0);
\draw[gen] (uowc.west |- 0,540) -- (iuow.east |- 0,540);
\draw[plainl] (abs.west |- 0,1040) -- (-30,1040);
\end{scope}

\begin{scope}[reg={1100}{640}{2.904}{3}]
\draw[comp] (login.west |- 0,175) -- (proj.east |- 0,170);
\draw[gen] (dlog.north -| 487,0) -- (login.south -| 487,0);
\draw[gen] (dblog.north -| 487,0) -- (dlog.south -| 487,0);
\draw[comp] (plat.west |- 0,355) -- (dlog.east |- 0,355);
\draw[gen] (dspl.west |- 0,355) -- (plat.east |- 0,355);
\draw[gen] (dbp.north -| 848,0) -- (848,440) -- (893,440) -- (dspl.south -| 893,0);
\draw[gen] (xmlp.north -| 1037,0) -- (1037,440) -- (988,440) -- (dspl.south -| 988,0);
\draw[gen] (dblsm.north -| 849,0) -- (dbp.south -| 849,0);
\draw[gen] (orap.north -| 849,0) -- (dblsm.south -| 849,0);
\draw[comp] (cd.east |- 0,1060) -- (540,1060) -- (540,1000) -- (ob.west |- 0,1000);
\draw[comp] (cd.east |- 0,1147) -- (510,1147) -- (510,1182) -- (dqm.west |- 0,1182);
\draw[gen] (tob.west |- 0,1048) -- (745,1048) -- (ob.east |- 0,1020);
\draw[gen] (xob.north -| 1068,0) -- (1068,970) -- (ob.east |- 0,970);
\draw[comp] (dbq.north -| 818,0) -- (818,1182) -- (dqm.east |- 0,1182);
\draw[comp] (cd.north) -- (380,305) -- (280,305) -- (proj.south -| 280,0);
\draw[comp] (dbm.east |- 0,1350) -- (380,1350) -- (cd.south -| 380,0);
\draw[comp] (inh.east |- 0,1240) -- (340,1240) -- (cd.south -| 340,0);
\end{scope}

\begin{scope}[reg={640}{720}{2.613}{3}]
\draw[comp,lg] (enti.west |- 0,635) -- (88,635) -- (88,262) -- (metai.west |- 0,262);
\draw[comp,lg] (msi.west |- 0,500) -- (103,500) -- (103,302) -- (metai.west |- 0,302);
\draw[comp,lg] (embi.east |- 0,350) -- (385,350) -- (385,338) -- (metai.west |- 0,338);
\draw[comp,lg] (typei.south -| 690,0) -- (690,262) -- (metai.east |- 0,262);
\draw[comp,lg] (mti.west |- 0,320) -- (metai.east |- 0,302);
\draw[comp,lg] (mti.west |- 0,362) -- (590,362) -- (590,338) -- (metai.east |- 0,338);
\draw[gen,lg] (basici.east |- 0,163) -- (typei.west |- 0,163);
\draw[gen,lg] (mti.north -| 730,0) -- (typei.south -| 730,0);
\draw[comp,lg] (plui.west |- 0,155) -- (typei.east |- 0,155);
\draw[gen,lg] (mapi.west |- 0,130) -- (plui.east |- 0,130);
\draw[gen,lg] (seti.west |- 0,255) -- (1145,255) -- (1145,157) -- (plui.east |- 0,157);
\draw[gen,lg] (listi.west |- 0,390) -- (1150,390) -- (1150,182) -- (plui.east |- 0,182);
\draw[gen,lg] (coli.west |- 0,505) -- (1125,505) -- (1125,240) -- (1035,240) -- (plui.south -| 1035,0);
\draw[gen,lg] (singi.west |- 0,635) -- (1022,635) -- (attri.south -| 1022,0);
\draw[gen,lg] (plui.south -| 995,0) -- (attri.north -| 995,0);
\draw[gen,lg] (attri.west |- 0,322) -- (mti.east |- 0,322);
\draw[comp,lg] (attri.west |- 0,362) -- (mti.east |- 0,362);
\draw[comp,lg] (mti.east |- 0,405) -- (attri.west |- 0,425);
\draw[gen,lg] (embi.east |- 0,375) -- (355,375) -- (355,405) -- (mti.west |- 0,405);
\draw[gen,lg] (msi.east |- 0,505) -- (360,505) -- (360,587) -- (idi.west |- 0,587);
\draw[gen,lg] (enti.east |- 0,635) -- (idi.west |- 0,635);
\draw[gen,lg] (idi.north -| 688,0) -- (mti.south -| 688,0);
\draw[comp,lg] (idi.north -| 728,0) -- (mti.south -| 728,0);
\draw[comp,lg] (reld.north -| 757,0) -- (757,775) -- (832,775) -- (832,540) -- (767,540) -- (mti.south -| 767,0);
\draw[comp] (dbm.north -| 995,0) -- (995,490) -- (965,490) -- (attri.south -| 965,0);
\draw[comp] (proj.south -| 1408,0) -- (1408,840) -- (263,840) -- (enti.south -| 263,0);
\draw[gen] (reld.east |- 0,862) -- (cd.west |- 0,862);
\draw[comp] (reld.west |- 0,862) -- (-560,862) -- (clsac.south -| -560,0);
\draw[gen] (ordt.north -| 760,0) -- (reld.south -| 760,0);
\draw[gen] (xcom.west |- 0,958) -- (acm.east |- 0,958);
\draw[gen] (acm.south -| 30,0) -- (agg.north -| 30,0);
\draw[comp] (ss.south -| 483,0) -- (483,165) -- (450,195) -- (metai.north -| 450,0);
\draw[comp] (idi.north -| 517,0) -- (metai.north -| 517,0);
\end{scope}

\begin{scope}[reg={60}{600}{2.613}{2.8}]
\draw[comp] (seqt.east |- 0,165) -- (tmeta.west |- 0,165);
\draw[gen] (tmeta.east |- 0,168) -- (orm.west |- 0,168);
\draw[gen] (metac.north -| 860,0) -- (860,250) -- (845,250) -- (orm.south -| 845,0);
\draw[gen] (embid.east |- 0,313) -- (embac.west |- 0,313);
\draw[plainl] (trans.east |- 0,442) -- (mapac.west |- 0,442);
\draw[gen] (basac.east |- 0,573) -- (dirac.west |- 0,573);
\draw[gen] (varac.east |- 0,705) -- (298,705) -- (298,808) -- (objac.west |- 0,808);
\draw[gen] (ooac.east |- 0,832) -- (objac.west |- 0,832);
\draw[gen] (moac.east |- 0,965) -- (268,965) -- (268,855) -- (objac.west |- 0,855);
\draw[gen] (omac.east |- 0,1097) -- (colac.west |- 0,1097);
\draw[gen] (mmac.east |- 0,1232) -- (272,1232) -- (272,1140) -- (colac.west |- 0,1140);
\draw[gen] (mapac.east |- 0,442) -- (metac.west |- 0,442);
\draw[plainl] (mdp.west |- 0,450) -- (1080,450) -- (1080,1000) -- (clsac.north -| 1080,0);
\draw[comp] (clsac.east |- 0,1032) -- (1232,1032) -- (1232,990) -- (clsac.east |- 0,990);
\node[slab] (lroot) at (1245,957) {.root};
\draw[gen] (msac.north -| 733,0) -- (733,1165) -- (720,1165) -- (720,955) -- (770,955);
\draw[plainl] (embble.north -| 830,0) -- (830,1010) -- (850,1010);
\draw[comp] (msac.south -| 670,0) -- (670,1385) -- (645,1385) -- (entac.north -| 645,0);
\draw[gen] (entac.north -| 715,0) -- (715,1320) -- (733,1320) -- (msac.south -| 733,0);
\draw[plainl] (clsac.south -| 1080,0) -- (1080,1145) -- (1005,1145);
\draw[gen] (strm.east |- 0,1230) -- (acm.west |- 0,1230);
\end{scope}

\begin{scope}[reg={360}{1060}{1.96}{3}]
\draw[gen] (xmlc.north -| 83,0) -- (xmlm.south -| 83,0);
\draw[gen] (xmlc.north -| 190,0) -- (xmln.south -| 190,0);
\draw[gen] (xmlc.east |- 0,285) -- (acc.west |- 0,285);
\draw[gen] (xmlo.east |- 0,115) -- (agg.west |- 0,115);
\draw[gen] (acc.north -| 437,0) -- (437,198) -- (537,198) -- (agg.south -| 537,0);
\draw[gen] (aggo.north -| 662,0) -- (662,198) -- (600,198) -- (agg.south -| 600,0);
\draw[gen] (oam.north -| 288,0) -- (288,368) -- (378,368) -- (acc.south -| 378,0);
\draw[gen,densely dashed] (acc.south -| 437,0) -- (contm.north -| 437,0);
\draw[gen] (acolm.west |- 0,450) -- (contm.east |- 0,450);
\draw[gen] (arrm.north -| 553,0) -- (553,530) -- (576,530) -- (acolm.south -| 576,0);
\draw[gen] (oarr.north -| 692,0) -- (692,530) -- (654,530) -- (acolm.south -| 654,0);
\draw[gen] (arrm.south -| 553,0) -- (acd.north -| 553,0);
\draw[gen] (oarr.south -| 689,0) -- (acd.north -| 689,0);
\draw[gen] (acd.west |- 0,795) -- (437,795) -- (contm.south -| 437,0);
\draw[gen] (acd.east |- 0,795) -- (780,795) -- (780,135) -- (dbm.west |- 0,135);
\draw[gen] (aggo.east |- 0,285) -- (768,285) -- (768,658) -- (relm.west |- 0,658);
\draw[gen] (agg.east |- 0,92) -- (dbm.west |- 0,92);
\draw[gen] (adm.north -| 885,0) -- (885,178) -- (dbm.west |- 0,178);
\draw[gen] (atm.east |- 0,270) -- (1268,270) -- (dbm.south -| 1268,0);
\draw[gen] (frm.north -| 1463,0) -- (1463,178) -- (dbm.east |- 0,178);
\draw[gen] (dtf.north -| 885,0) -- (adm.south -| 885,0);
\draw[gen] (trm.north -| 1048,0) -- (1048,357) -- (1089,357) -- (atm.south -| 1089,0);
\draw[gen] (dtf.south -| 885,0) -- (885,603) -- (1010,603) -- (relm.north -| 1010,0);
\draw[gen] (trm.south -| 1041,0) -- (relm.north -| 1041,0);
\draw[gen] (oom.west |- 0,390) -- (1140,390) -- (1140,512) -- (1072,512) -- (relm.north -| 1072,0);
\draw[gen] (oom.east |- 0,388) -- (1338,388) -- (1338,437) -- (1420,437) -- (orm2.north -| 1420,0);
\draw[gen] (orm2.north -| 1463,0) -- (frm.south -| 1463,0);
\draw[gen] (vom.east |- 0,525) -- (orm2.west |- 0,525);
\draw[gen] (vom.south -| 1208,0) -- (1208,602) -- (1150,602) -- (1150,680) -- (relm.east |- 0,680);
\draw[gen] (mmm.west |- 0,705) -- (relm.east |- 0,705);
\draw[gen] (mmm.east |- 0,675) -- (1335,705) -- (colm.west |- 0,705);
\draw[gen] (aggc.east |- 0,795) -- (1365,795) -- (1365,728) -- (colm.west |- 0,728);
\draw[gen] (aggc.west |- 0,825) -- (1072,825) -- (relm.south -| 1072,0);
\draw[gen] (dcm.west |- 0,950) -- (1040,950) -- (relm.south -| 1040,0);
\draw[gen] (dcm.east |- 0,925) -- (1487,918) -- (colm.south -| 1487,0);
\draw[gen] (dmm.west |- 0,1010) -- (1355,1010) -- (dcm.east |- 0,960);
\draw[gen] (omm.west |- 0,1075) -- (1010,1075) -- (relm.south -| 1010,0);
\draw[gen] (omm.east |- 0,1103) -- (1516,1103) -- (colm.south -| 1516,0);
\coordinate (ff1) at (1253,1168);
\coordinate (ff2) at (1549,1170);
\draw[gen] (ff1) -- (omm.south -| ff1);
\draw[gen] (ff2) -- (colm.south -| ff2);
\draw[depl,solid] (oom.south -| 1225,0) -- (hnote.north west);
\draw[depl] (vom.south -| 1260,0) -- (hnote.west);
\end{scope}

\begin{scope}[reg={1100}{1060}{2.8}{3}]
\draw[gen] (deq.east |- 0,113) -- (dbq.west |- 0,113);
\draw[gen] (jpaq.west |- 0,113) -- (dbq.east |- 0,113);
\draw[gen] (irec.west |- 0,150) -- (imap.east |- 0,150);
\draw[gen] (arec.north -| 382,0) -- (irec.south -| 382,0);
\draw[gen] (drec.north -| 382,0) -- (arec.south -| 382,0);
\draw[gen] (erec.north -| 382,0) -- (drec.south -| 382,0);
\draw[circ] (arec.east |- 0,296) -- (modq.west |- 0,296);
\draw[gen] (modq.north -| 750,0) -- (dbq.south -| 750,0);
\draw[gen] (rdq.north -| 1073,0) -- (1073,200) -- (822,200) -- (dbq.south -| 822,0);
\draw[gen] (maq.north -| 540,0) -- (540,380) -- (710,380) -- (modq.south -| 710,0);
\draw[gen] (olm.north -| 750,0) -- (modq.south -| 750,0);
\draw[gen] (dmq.north -| 850,0) -- (850,380) -- (785,380) -- (modq.south -| 785,0);
\draw[gen] (drq.north -| 1025,0) -- (1025,395) -- (1043,395) -- (rdq.south -| 1043,0);
\draw[gen] (obq.north -| 1137,0) -- (1137,385) -- (1105,385) -- (rdq.south -| 1105,0);
\draw[depl] (dnote.south -| 912,0) -- (dmq.north -| 887,0);
\draw[depl] (dnote.south -| 945,0) -- (drq.north -| 985,0);
\draw[gen] (daq.north -| 375,0) -- (375,688) -- (505,688) -- (maq.south -| 505,0);
\draw[gen] (uaq.north -| 530,0) -- (530,688) -- (540,688) -- (maq.south -| 540,0);
\draw[gen] (doq.north -| 695,0) -- (olm.south -| 695,0);
\draw[gen] (woq.north -| 877,0) -- (877,688) -- (805,688) -- (olm.south -| 805,0);
\draw[gen] (rsq.north -| 1088,0) -- (obq.south -| 1088,0);
\draw[gen] (olr.north -| 1317,0) -- (1317,688) -- (1185,688) -- (obq.south -| 1185,0);
\draw[gen] (uoq.north -| 785,0) -- (785,865) -- (833,865) -- (woq.south -| 833,0);
\draw[gen] (ioq.north -| 970,0) -- (970,865) -- (917,865) -- (woq.south -| 917,0);
\draw[gen] (roq.north -| 1198,0) -- (1198,865) -- (1263,865) -- (olr.south -| 1263,0);
\draw[gen] (raq.north -| 1358,0) -- (olr.south -| 1358,0);
\draw[gen] (rpq.north -| 1358,0) -- (raq.south -| 1358,0);
\draw[gen] (colm.east |- 0,705) -- (212,705) -- (212,352) -- (frm.east |- 0,352);
\end{scope}

\begin{scope}[reg={1640}{200}{3}{2.412}]
\draw[gen] (dcqm.north -| 308,0) -- (dqm2.south -| 308,0);
\draw[gen] (cqm.north -| 308,0) -- (dcqm.south -| 308,0);
\draw[gen] (sqm.north -| 308,0) -- (cqm.south -| 308,0);
\draw[gen] (eqm.north -| 308,0) -- (sqm.south -| 308,0);
\draw[gen] (jcqm.north -| 163,0) -- (163,672) -- (238,672) -- (eqm.south -| 238,0);
\draw[gen] (qbe.north -| 460,0) -- (460,672) -- (375,672) -- (eqm.south -| 375,0);
\draw[comp] (dcqm.east |- 0,215) -- (dcall.west |- 0,215);
\draw[gen] (dcall.north -| 636,0) -- (636,155) -- (810,155) -- (icall.south -| 810,0);
\draw[gen] (qsc.north -| 847,0) -- (icall.south -| 847,0);
\draw[gen] (jcall.north -| 1040,0) -- (1040,155) -- (885,155) -- (icall.south -| 885,0);
\draw[gen] (dbcall.north -| 633,0) -- (dcall.south -| 633,0);
\draw[gen] (spc.north -| 632,0) -- (dbcall.south -| 632,0);
\draw[gen] (sqlc.north -| 815,0) -- (815,412) -- (665,412) -- (dbcall.south -| 665,0);
\draw[gen] (sqlc.north -| 848,0) -- (qsc.south -| 848,0);
\end{scope}

\begin{scope}[reg={1650}{860}{3}{2.613}]
\draw[gen,lg,densely dashed] (mm.east |- 0,242) -- (ty.west |- 0,242);
\draw[gen,lg] (bt.west |- 0,240) -- (ty.east |- 0,240);
\draw[gen,lg] (mt.north -| 385,0) -- (ty.south -| 385,0);
\draw[gen,lg] (et.west |- 0,383) -- (mt.east |- 0,383);
\draw[gen,lg] (it.north -| 385,0) -- (mt.south -| 385,0);
\draw[gen,lg] (mst.west |- 0,480) -- (500,480) -- (500,505) -- (it.east |- 0,505);
\draw[gen,lg] (ent.west |- 0,560) -- (500,560) -- (500,535) -- (it.east |- 0,535);
\draw[dotl,lgc] (mm.north -| 185,0) -- (185,147) -- (840,147) -- (840,578) -- (ent.east |- 0,578);
\draw[dotl,lgc] (mm.north -| 222,0) -- (222,155) -- (820,155) -- (820,383) -- (et.east |- 0,383);
\draw[dotl,lgc] (mst.east |- 0,480) -- (840,480);
\draw[gen,lg] (sa.south -| 345,0) -- (att0.north -| 345,0);
\draw[gen,lg] (sa.south -| 430,0) -- (bnd.north -| 430,0);
\draw[gen,lg] (ent.west |- 0,598) -- (497,598) -- (bnd.north -| 497,0);
\draw[gen,lg] (pa.north -| 345,0) -- (att0.south -| 345,0);
\draw[gen,lg] (pa.north -| 430,0) -- (bnd.south -| 430,0);
\draw[circ,lg] (ct.north) -- (pa.south -| ct.north);
\draw[gen,lg] (ma.west |- 0,730) -- (560,730) -- (560,945) -- (pa.east |- 0,945);
\draw[gen,lg] (ssa.west |- 0,865) -- (572,865) -- (572,965) -- (pa.east |- 0,965);
\draw[gen,lg] (la.west |- 0,985) -- (pa.east |- 0,985);
\draw[gen,lg] (ca.west |- 0,1105) -- (560,1105) -- (560,1030) -- (410,1030) -- (pa.south -| 410,0);
\draw[gen] (ma.east |- 0,730) -- (jmap.west |- 0,730);
\draw[gen] (ssa.east |- 0,865) -- (jset.west |- 0,865);
\draw[gen] (la.east |- 0,985) -- (jlist.west |- 0,985);
\draw[gen] (ca.east |- 0,1107) -- (jcol.west |- 0,1107);
\end{scope}
\end{pgfonlayer}

\begin{pgfonlayer}{top}
\begin{scope}[reg={1640}{200}{3}{2.412}]
\draw[dasharr] (ebasic.east) -- (765,983);
\draw[dasharr] (eemb.east) -- (765,1117);
\draw[dasharr] (eent.east) -- (760,1282);
\draw[dasharr] (emap.east) -- (765,1425);
\end{scope}
% Red cross
\path[fill=red,xshape] (1112.6,241.7) -- (1204.6,329.5) -- (1296,241.7) -- (1372.6,322.6) -- (1284.8,403.5) -- (1372.6,485.5) -- (1296,566) -- (1204.6,479) -- (1112.6,566) -- (1036.9,485.5) -- (1123.7,403.5) -- (1036.9,322.6) -- cycle;
% Purple cross
\path[fill=xpur,xshape] (220.7,688) -- (335.5,780) -- (450,688) -- (518,772.5) -- (423.6,849) -- (518,925.7) -- (450,1009.6) -- (335.5,918) -- (220.7,1009.6) -- (153.8,925.7) -- (247.5,849) -- (153.8,772.5) -- cycle;
% Mountain logo
\begin{scope}[shift={(1740,20)},xscale=1/3,yscale=1/3]
 \fill[white] (370,218) ellipse (155 and 155);
 \fill[banner] (365,218) ellipse (72 and 80);
 \fill[banner] (405,220) -- (430,182) -- (512,155) -- (640,100) -- (640,380) -- (420,372) -- (395,300) -- cycle;
 \fill[white] (345,372) -- (445,252) -- (470,255) -- (497,292) -- (580,205) -- (665,295) -- (712,237) -- (830,372) -- cycle;
 \fill[banner] (500,340) -- (580,225) -- (655,315) -- (632,325) -- (600,280) -- (595,322) -- (578,298) -- (560,342) -- (538,320) -- cycle;
 \fill[banner] (680,300) -- (712,255) -- (768,342) -- (745,300) -- (728,325) -- (708,320) -- (700,345) -- cycle;
 \fill[banner] (430,330) -- (470,265) -- (490,295) -- (470,330) -- (445,322) -- (420,345) -- cycle;
 \draw[banner,line width=.5pt] (365,365) -- (450,255);
 \draw[banner,line width=.5pt] (385,355) -- (468,255);
 \fill[white] (305,185) -- (380,176) -- (405,165) -- (415,200) -- (400,205) -- (345,250) -- (335,248) -- (368,205) -- cycle;
 \fill[white] (395,200) -- (415,205) -- (412,285) -- (398,280) -- (388,240) -- cycle;
\end{scope}
% OWASP logo
\shade[inner color=orbi,outer color=orbo] (75,1430) circle (37);
\draw[black!75,line width=2.4pt] (75,1430) circle (39);
\fill[white,opacity=.6] (52,1424) -- (80,1408) -- (97,1410) -- (84,1425) -- (90,1455) -- (78,1432) -- (60,1448) -- (70,1426) -- cycle;
\node[inner sep=0pt,anchor=west,font=\owf\fontsize{28.5}{29}\selectfont,text=black!75] (owasp) at (126,1424) {OWASP};
\node[inner sep=0pt,anchor=north west,align=left,font=\fontsize{8.5}{9}\selectfont,text=owsc] (owsub) at (129,1456) {Open Web Application\\Security Project};
\end{pgfonlayer}
\end{tikzpicture}
\end{document}
